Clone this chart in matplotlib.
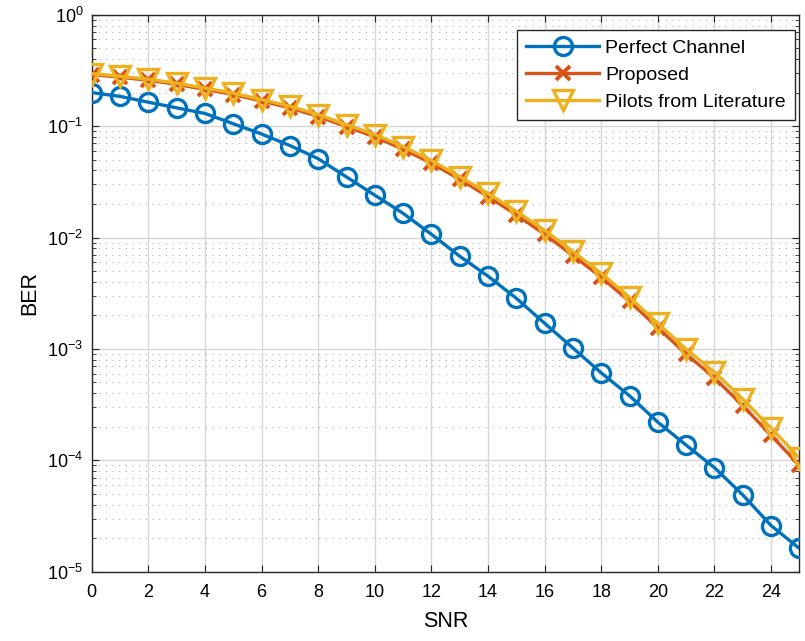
import matplotlib.pyplot as plt
import matplotlib.ticker as mticker

plt.rcParams['font.family'] = ['Liberation Sans', 'DejaVu Sans']
plt.rcParams['mathtext.fontset'] = 'custom'
plt.rcParams['mathtext.rm'] = 'Liberation Sans'
plt.rcParams['mathtext.it'] = 'Liberation Sans'

snr = list(range(26))

ber_perfect = [0.200, 0.185, 0.164, 0.146, 0.130, 0.105, 0.085, 0.067, 0.051, 0.035,
               0.024, 0.0165, 0.0107, 0.0068, 0.0045, 0.00285, 0.0017, 0.00102, 0.00061,
               0.00038, 0.00022, 0.000137, 8.6e-5, 4.9e-5, 2.6e-5, 1.62e-5]

ber_proposed = [0.290, 0.275, 0.258, 0.237, 0.214, 0.192, 0.168, 0.146, 0.122, 0.099,
                0.080, 0.062, 0.0465, 0.0333, 0.0233, 0.0160, 0.0107, 0.0069, 0.0044,
                0.00267, 0.00155, 0.00090, 0.00055, 0.00031, 0.000168, 9.0e-5]

ber_pilots = [0.296, 0.281, 0.264, 0.243, 0.220, 0.198, 0.173, 0.151, 0.127, 0.103,
              0.084, 0.0656, 0.0492, 0.0353, 0.0249, 0.0172, 0.0116, 0.0075, 0.00478,
              0.00291, 0.0017, 0.000996, 0.00062, 0.000355, 0.000195, 0.000105]

fig = plt.figure(figsize=(8.05, 6.41), dpi=100)
ax = fig.add_axes([0.114, 0.108, 0.879, 0.869])

ax.semilogy(snr, ber_perfect, '-o', color='#0072BD', lw=2.4, ms=13, mew=2.4,
            mfc='none', label='Perfect Channel', zorder=3)
ax.semilogy(snr, ber_proposed, '-x', color='#D95319', lw=2.4, ms=10, mew=2.8,
            label='Proposed', zorder=4)
ax.semilogy(snr, ber_pilots, '-v', color='#EDB120', lw=2.4, ms=14, mew=2.4,
            mfc='none', label='Pilots from Literature', zorder=5)

ax.set_xlim(0, 25)
ax.set_ylim(1e-5, 1)
ax.set_xticks(range(0, 25, 2))
ax.yaxis.set_major_locator(mticker.LogLocator(base=10, numticks=10))
ax.yaxis.set_minor_locator(mticker.LogLocator(base=10, subs=range(2, 10), numticks=10))
ax.yaxis.set_minor_formatter(mticker.NullFormatter())

ax.grid(True, which='major', color='#d6d6d6', lw=1.0, ls='-')
ax.grid(True, which='minor', axis='y', color='#b0b0b0', lw=0.8, ls=(0, (1, 5)))
ax.set_axisbelow(True)

ax.tick_params(which='both', direction='in', top=True, right=True, labelsize=13,
               color='#262626')
ax.tick_params(which='major', length=5)
ax.tick_params(which='minor', length=3)
ax.tick_params(axis='x', pad=9)
ax.tick_params(axis='y', pad=6)
for s in ax.spines.values():
    s.set_color('#262626')
    s.set_linewidth(1.0)

ax.set_xlabel('SNR', fontsize=15.5, labelpad=7)
ax.set_ylabel('BER', fontsize=15.5, labelpad=5)

leg = ax.legend(loc='upper right', fontsize=14, fancybox=False, framealpha=1,
                edgecolor='#262626', handlelength=3.75, borderpad=0.48,
                labelspacing=0.48, handletextpad=0.3, borderaxespad=0,
                bbox_to_anchor=(0.994, 0.973))
leg.get_frame().set_linewidth(1.0)

fig.savefig('out.png', dpi=100)
